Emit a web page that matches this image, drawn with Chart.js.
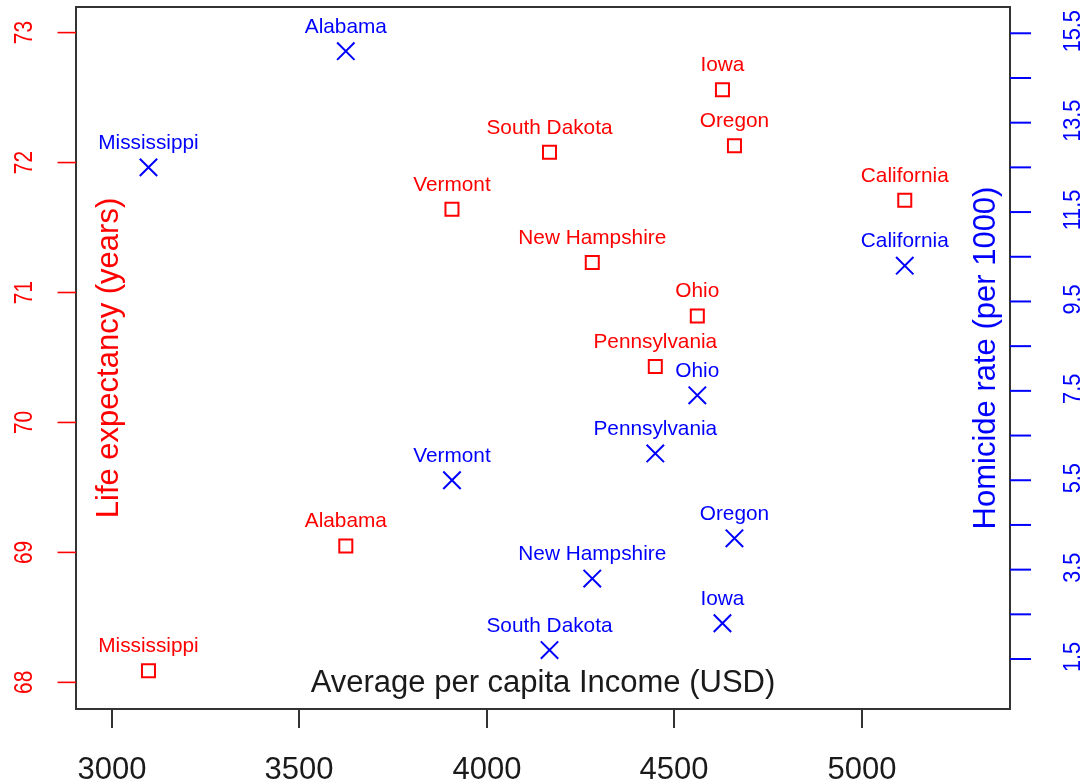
<!DOCTYPE html>
<html>
<head>
<meta charset="utf-8">
<script src="https://cdn.jsdelivr.net/npm/chart.js@4"></script>
<style>
  html, body { margin: 0; padding: 0; background: #fff; }
  #wrap { position: relative; width: 1086px; height: 784px; }
</style>
</head>
<body>
<div id="wrap"><canvas id="c"></canvas></div>
<script>
// ---- data ----
const states = ['Alabama', 'California', 'Iowa', 'Mississippi', 'New Hampshire', 'Ohio', 'Oregon', 'Pennsylvania', 'South Dakota', 'Vermont'];
const income = [3624, 5114, 4628, 3098, 4281, 4561, 4660, 4449, 4167, 3907];
const lifeExp = [69.05, 71.71, 72.56, 68.09, 71.23, 70.82, 72.13, 70.43, 72.08, 71.64];
const homicide = [15.1, 10.3, 2.3, 12.5, 3.3, 7.4, 4.2, 6.1, 1.7, 5.5];

const xTicks = [3000, 3500, 4000, 4500, 5000];
const leftTicks = [68, 69, 70, 71, 72, 73];
const rightTicks = [1.5, 2.5, 3.5, 4.5, 5.5, 6.5, 7.5, 8.5, 9.5, 10.5, 11.5, 12.5, 13.5, 14.5, 15.5];
const rightTickLabels = ['1.5', '3.5', '5.5', '7.5', '9.5', '11.5', '13.5', '15.5'];

const xTitle = 'Average per capita Income (USD)';
const leftTitle = 'Life expectancy (years)';
const rightTitle = 'Homicide rate (per 1000)';

const RED = '#ff0000';
const BLUE = '#0000ff';
const DARK = '#1a1a1a';
const FONT = '"Liberation Sans", Arial, Helvetica, sans-serif';

function rotText(ctx, text, x, y, size, color, squeeze) {
  ctx.save();
  ctx.translate(x, y);
  ctx.rotate(-Math.PI / 2);
  ctx.scale(squeeze || 1, 1);
  ctx.font = size + 'px ' + FONT;
  ctx.fillStyle = color;
  ctx.textAlign = 'center';
  ctx.textBaseline = 'alphabetic';
  ctx.fillText(text, 0, 0);
  ctx.restore();
}

const decor = {
  id: 'decor',
  afterDraw(chart) {
    const ctx = chart.ctx;
    const a = chart.chartArea;
    const sx = chart.scales.x, yl = chart.scales.yL, yr = chart.scales.yR;
    ctx.save();
    // box
    ctx.strokeStyle = '#333333';
    ctx.lineWidth = 2;
    ctx.strokeRect(a.left, a.top, a.right - a.left, a.bottom - a.top);

    // bottom ticks
    ctx.lineWidth = 2;
    ctx.strokeStyle = '#333333';
    ctx.font = '31px ' + FONT;
    ctx.fillStyle = DARK;
    ctx.textAlign = 'center';
    ctx.textBaseline = 'alphabetic';
    xTicks.forEach(v => {
      const px = Math.round(sx.getPixelForValue(v));
      ctx.beginPath();
      ctx.moveTo(px, a.bottom);
      ctx.lineTo(px, a.bottom + 19);
      ctx.stroke();
      ctx.fillText(String(v), px, a.bottom + 70);
    });

    // left ticks
    ctx.strokeStyle = RED;
    ctx.lineWidth = 1.6;
    leftTicks.forEach(v => {
      const py = yl.getPixelForValue(v);
      ctx.beginPath();
      ctx.moveTo(a.left - 18.5, py);
      ctx.lineTo(a.left, py);
      ctx.stroke();
      rotText(ctx, String(v), 32, py, 25.5, RED, 0.82);
    });

    // right ticks
    ctx.strokeStyle = BLUE;
    ctx.lineWidth = 2;
    rightTicks.forEach(v => {
      const py = yr.getPixelForValue(v);
      ctx.beginPath();
      ctx.moveTo(a.right, py);
      ctx.lineTo(a.right + 21, py);
      ctx.stroke();
    });
    rightTickLabels.forEach(t => {
      const py = yr.getPixelForValue(parseFloat(t));
      rotText(ctx, t, 1079.5, py - 2, 23.3, BLUE, 0.93);
    });

    // titles (inside plot)
    const cy = (a.top + a.bottom) / 2;
    rotText(ctx, leftTitle, 118, cy, 31, RED, 1);
    rotText(ctx, rightTitle, 995, cy, 31, BLUE, 1);
    ctx.font = '31px ' + FONT;
    ctx.fillStyle = DARK;
    ctx.textAlign = 'center';
    ctx.textBaseline = 'alphabetic';
    ctx.fillText(xTitle, (a.left + a.right) / 2, 692);

    // point labels
    ctx.font = '20.8px ' + FONT;
    ctx.textAlign = 'center';
    ctx.textBaseline = 'alphabetic';
    chart.data.datasets.forEach((ds, di) => {
      const meta = chart.getDatasetMeta(di);
      ctx.fillStyle = ds.borderColor;
      meta.data.forEach((pt, i) => {
        ctx.fillText(states[i], pt.x, pt.y - 18.5);
      });
    });
    ctx.restore();
  }
};

new Chart(document.getElementById('c'), {
  type: 'scatter',
  data: {
    datasets: [
      {
        label: 'Life expectancy',
        data: income.map((v, i) => ({ x: v, y: lifeExp[i] })),
        yAxisID: 'yL',
        pointStyle: 'rect',
        pointRadius: 9.2,
        pointBorderWidth: 2,
        borderColor: RED,
        backgroundColor: 'rgba(0,0,0,0)',
        pointBackgroundColor: 'rgba(0,0,0,0)'
      },
      {
        label: 'Homicide rate',
        data: income.map((v, i) => ({ x: v, y: homicide[i] })),
        yAxisID: 'yR',
        pointStyle: 'crossRot',
        pointRadius: 12.3,
        pointBorderWidth: 2,
        borderColor: BLUE,
        backgroundColor: BLUE
      }
    ]
  },
  options: {
    responsive: true,
    maintainAspectRatio: false,
    animation: false,
    events: [],
    layout: { autoPadding: false, padding: { left: 76, right: 76, top: 7, bottom: 75 } },
    plugins: { legend: { display: false }, tooltip: { enabled: false } },
    scales: {
      x: { type: 'linear', display: false, min: 2904.8, max: 5394.5 },
      yL: { type: 'linear', position: 'left', display: false, min: 67.795, max: 73.197 },
      yR: { type: 'linear', position: 'right', display: false, min: 0.382, max: 16.088 }
    }
  },
  plugins: [decor]
});
</script>
</body>
</html>
